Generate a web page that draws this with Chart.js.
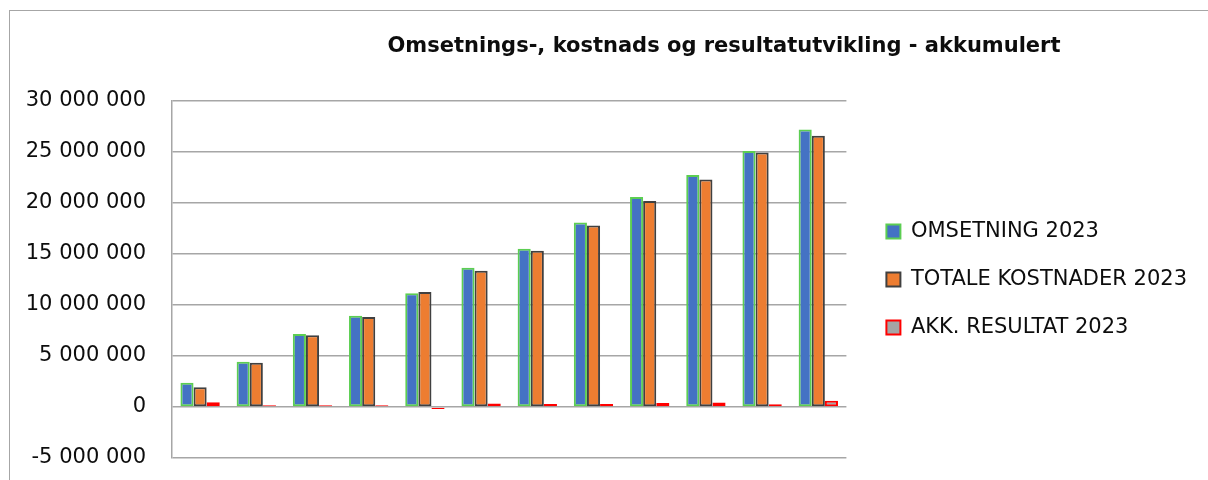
<!DOCTYPE html>
<html lang="no">
<head>
<meta charset="utf-8">
<title>Omsetnings-, kostnads og resultatutvikling - akkumulert</title>
<script src="https://cdn.jsdelivr.net/npm/chart.js@4.4.1/dist/chart.umd.min.js"></script>
<style>
  html, body { margin: 0; padding: 0; background: #fff; overflow: hidden; }
  #frame { position: absolute; left: 9px; top: 10px; width: 1400px; height: 800px; border: 1.5px solid #a6a6a6; }
  #wrap { position: absolute; left: 0; top: 0; width: 1208px; height: 480px; }
  #title { position: absolute; left: 324px; width: 800px; top: 33px; text-align: center;
           font: bold 21px 'DejaVu Sans'; color: #0d0d0d; white-space: nowrap; }
</style>
</head>
<body>
<div id="frame"></div>
<div id="wrap"><canvas id="chart"></canvas></div>
<div id="title">Omsetnings-, kostnads og resultatutvikling - akkumulert</div>
<script>
// akkumulert per måned (x-aksen er ikke synlig i bildet)
const months = ['jan', 'feb', 'mar', 'apr', 'mai', 'jun', 'jul', 'aug', 'sep', 'okt', 'nov', 'des'];

const omsetning = [2380000, 4440000, 7160000, 8950000, 11150000, 13660000, 15520000, 18100000, 20600000, 22750000, 25100000, 27200000];
const kostnader = [1930000, 4340000, 7030000, 8820000, 11270000, 13360000, 15320000, 17800000, 20200000, 22300000, 24950000, 26600000];
const resultat = [460000, 180000, 180000, 180000, -200000, 340000, 300000, 300000, 380000, 450000, 260000, 620000];

const yMin = -5000000;
const yMax = 30000000;
const yStep = 5000000;

const gridColor = '#a6a6a6';
const textColor = '#0d0d0d';

function formatNumber(v) {
    return String(v).replace(/\B(?=(\d{3})+(?!\d))/g, ' ');
}

const ctx = document.getElementById('chart');

new Chart(ctx, {
    type: 'bar',
    data: {
        labels: months,
        datasets: [{
            label: 'OMSETNING 2023',
            data: omsetning,
            backgroundColor: '#4472c4',
            borderColor: '#5cce52',
            borderWidth: 2,
            borderSkipped: false
        }, {
            label: 'TOTALE KOSTNADER 2023',
            data: kostnader,
            backgroundColor: '#ed7d31',
            borderColor: '#404040',
            borderWidth: 2,
            borderSkipped: false
        }, {
            label: 'AKK. RESULTAT 2023',
            data: resultat,
            backgroundColor: '#a5a5a5',
            borderColor: '#ff0000',
            borderWidth: 2,
            borderSkipped: false
        }]
    },
    options: {
        responsive: true,
        maintainAspectRatio: false,
        animation: false,
        layout: {
            padding: { top: 101, bottom: 22, left: 0, right: 11 }
        },
        datasets: {
            bar: {
                categoryPercentage: 0.7,
                barPercentage: 1.0
            }
        },
        plugins: {
            title: { display: false },
            tooltip: { enabled: false },
            legend: {
                position: 'right',
                align: 'center',
                maxWidth: 420,
                labels: {
                    boxWidth: 14,
                    boxHeight: 14,
                    padding: 27,
                    color: textColor,
                    font: { family: 'DejaVu Sans', size: 21 }
                }
            }
        },
        scales: {
            x: {
                display: false,
                grid: { display: false }
            },
            y: {
                min: yMin,
                max: yMax,
                ticks: {
                    stepSize: yStep,
                    padding: 0,
                    color: textColor,
                    font: { family: 'DejaVu Sans', size: 21 },
                    callback: function(value) {
                        return formatNumber(value);
                    }
                },
                grid: {
                    color: gridColor,
                    lineWidth: 1.5,
                    drawTicks: true,
                    tickLength: 26,
                    tickColor: 'rgba(0,0,0,0)'
                },
                border: {
                    color: gridColor,
                    width: 1.5
                },
                afterFit: function(scale) {
                    scale.width = 172;
                }
            },
            // tom akse som gir luft mellom plottet og forklaringen
            gap: {
                type: 'linear',
                position: 'right',
                display: true,
                grid: { display: false },
                ticks: { display: false },
                border: { display: false },
                afterFit: function(scale) {
                    scale.width = 13;
                }
            }
        }
    }
});
</script>
</body>
</html>
